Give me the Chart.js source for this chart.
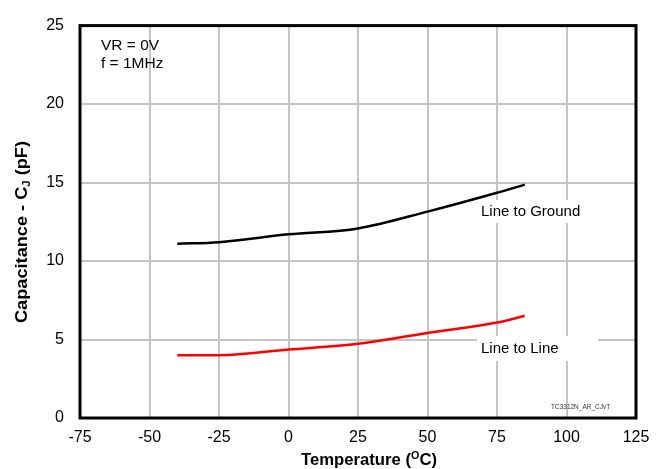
<!DOCTYPE html>
<html>
<head>
<meta charset="utf-8">
<script src="https://cdn.jsdelivr.net/npm/chart.js@4"></script>
<style>
  html, body { margin: 0; padding: 0; background: #fff; }
  #wrap { width: 667px; height: 469px; }
</style>
</head>
<body>
<div id="wrap"><canvas id="cjChart" width="667" height="469"></canvas></div>
<script>
// Data
const temps = [-40, -25, 0, 25, 50, 75, 85];
const lineToGround = [11.1, 11.2, 11.7, 12.08, 13.15, 14.35, 14.87];
const lineToLine = [4.0, 4.0, 4.36, 4.73, 5.42, 6.08, 6.51];
const xTicks = [-75, -50, -25, 0, 25, 50, 75, 100, 125];
const yTicks = [0, 5, 10, 15, 20, 25];

const FONT = 'Arial, "Liberation Sans", sans-serif';

function toPoints(xs, ys) {
    return xs.map((x, i) => ({ x: x, y: ys[i] }));
}

// draw "main + small + main" text, small part raised (sup) or lowered (sub)
function drawMixed(ctx, parts, size, small, shift, cx, cy, targetW) {
    ctx.font = 'bold ' + size + 'px ' + FONT;
    const w1 = ctx.measureText(parts[0]).width;
    const w3 = ctx.measureText(parts[2]).width;
    ctx.font = 'bold ' + small + 'px ' + FONT;
    const w2 = ctx.measureText(parts[1]).width;
    const total = w1 + w2 + w3;
    ctx.save();
    ctx.translate(cx, cy);
    if (targetW) ctx.scale(targetW / total, 1);
    let x = -total / 2;
    ctx.font = 'bold ' + size + 'px ' + FONT;
    ctx.fillText(parts[0], x, 0);
    ctx.font = 'bold ' + small + 'px ' + FONT;
    ctx.fillText(parts[1], x + w1, shift);
    ctx.font = 'bold ' + size + 'px ' + FONT;
    ctx.fillText(parts[2], x + w1 + w2, 0);
    ctx.restore();
}

// Text labels, axis titles (with sub/superscript) and frame
const notesPlugin = {
    id: 'notes',
    afterDatasetsDraw(chart) {
        const ctx = chart.ctx;
        const area = chart.chartArea;
        ctx.save();

        // curve labels with white box behind
        ctx.fillStyle = '#fff';
        ctx.fillRect(477, 200, 130, 23);
        ctx.fillRect(477, 336, 121, 25);
        ctx.fillStyle = '#000';
        ctx.font = '15px ' + FONT;
        ctx.textBaseline = 'middle';
        ctx.textAlign = 'left';
        ctx.fillText('Line to Ground', 481, 212);
        ctx.fillText('Line to Line', 481, 349);

        // conditions
        ctx.font = '15.5px ' + FONT;
        ctx.fillText('VR = 0V', 101, 46);
        ctx.fillText('f = 1MHz', 101, 64);

        // figure id
        ctx.font = '6.5px ' + FONT;
        ctx.fillStyle = '#333';
        ctx.fillText('TC3312N_AR_CJvT', 551, 407);

        // frame
        ctx.strokeStyle = '#000';
        ctx.lineWidth = 3;
        ctx.strokeRect(area.left, area.top, area.right - area.left, area.bottom - area.top);

        // axis titles
        ctx.fillStyle = '#000';
        ctx.textBaseline = 'alphabetic';
        drawMixed(ctx, ['Temperature (', 'O', 'C)'], 17, 11, -6, 369, 465, 136);

        ctx.translate(27, 232);
        ctx.rotate(-Math.PI / 2);
        drawMixed(ctx, ['Capacitance - C', 'J', ' (pF)'], 16, 10, 3, 0, 0, 182);

        ctx.restore();
    }
};

const config = {
    type: 'line',
    data: {
        datasets: [
            {
                label: 'Line to Ground',
                data: toPoints(temps, lineToGround),
                borderColor: '#000',
                borderWidth: 2.5,
                pointRadius: 0,
                cubicInterpolationMode: 'monotone',
                fill: false
            },
            {
                label: 'Line to Line',
                data: toPoints(temps, lineToLine),
                borderColor: '#ff0000',
                borderWidth: 2.5,
                pointRadius: 0,
                cubicInterpolationMode: 'monotone',
                fill: false
            }
        ]
    },
    options: {
        responsive: false,
        animation: false,
        layout: { padding: { top: 15, right: 31, left: 0, bottom: 0 } },
        plugins: {
            legend: { display: false },
            tooltip: { enabled: false }
        },
        scales: {
            x: {
                type: 'linear',
                min: -75,
                max: 125,
                afterBuildTicks: s => { s.ticks = xTicks.map(v => ({ value: v })); },
                afterFit: s => { s.height = 51; },
                grid: { color: '#c4c4c4', lineWidth: 2, drawTicks: false },
                border: { display: false },
                ticks: { color: '#000', padding: 10, maxRotation: 0, font: { size: 16, family: FONT } }
            },
            y: {
                type: 'linear',
                min: 0,
                max: 25,
                afterBuildTicks: s => { s.ticks = yTicks.map(v => ({ value: v })); },
                afterFit: s => { s.width = 80; },
                grid: { color: '#c4c4c4', lineWidth: 2, drawTicks: false },
                border: { display: false },
                ticks: { color: '#000', padding: 16, font: { size: 16, family: FONT } }
            }
        }
    },
    plugins: [notesPlugin]
};

const ctx = document.getElementById('cjChart').getContext('2d');
new Chart(ctx, config);
</script>
</body>
</html>
